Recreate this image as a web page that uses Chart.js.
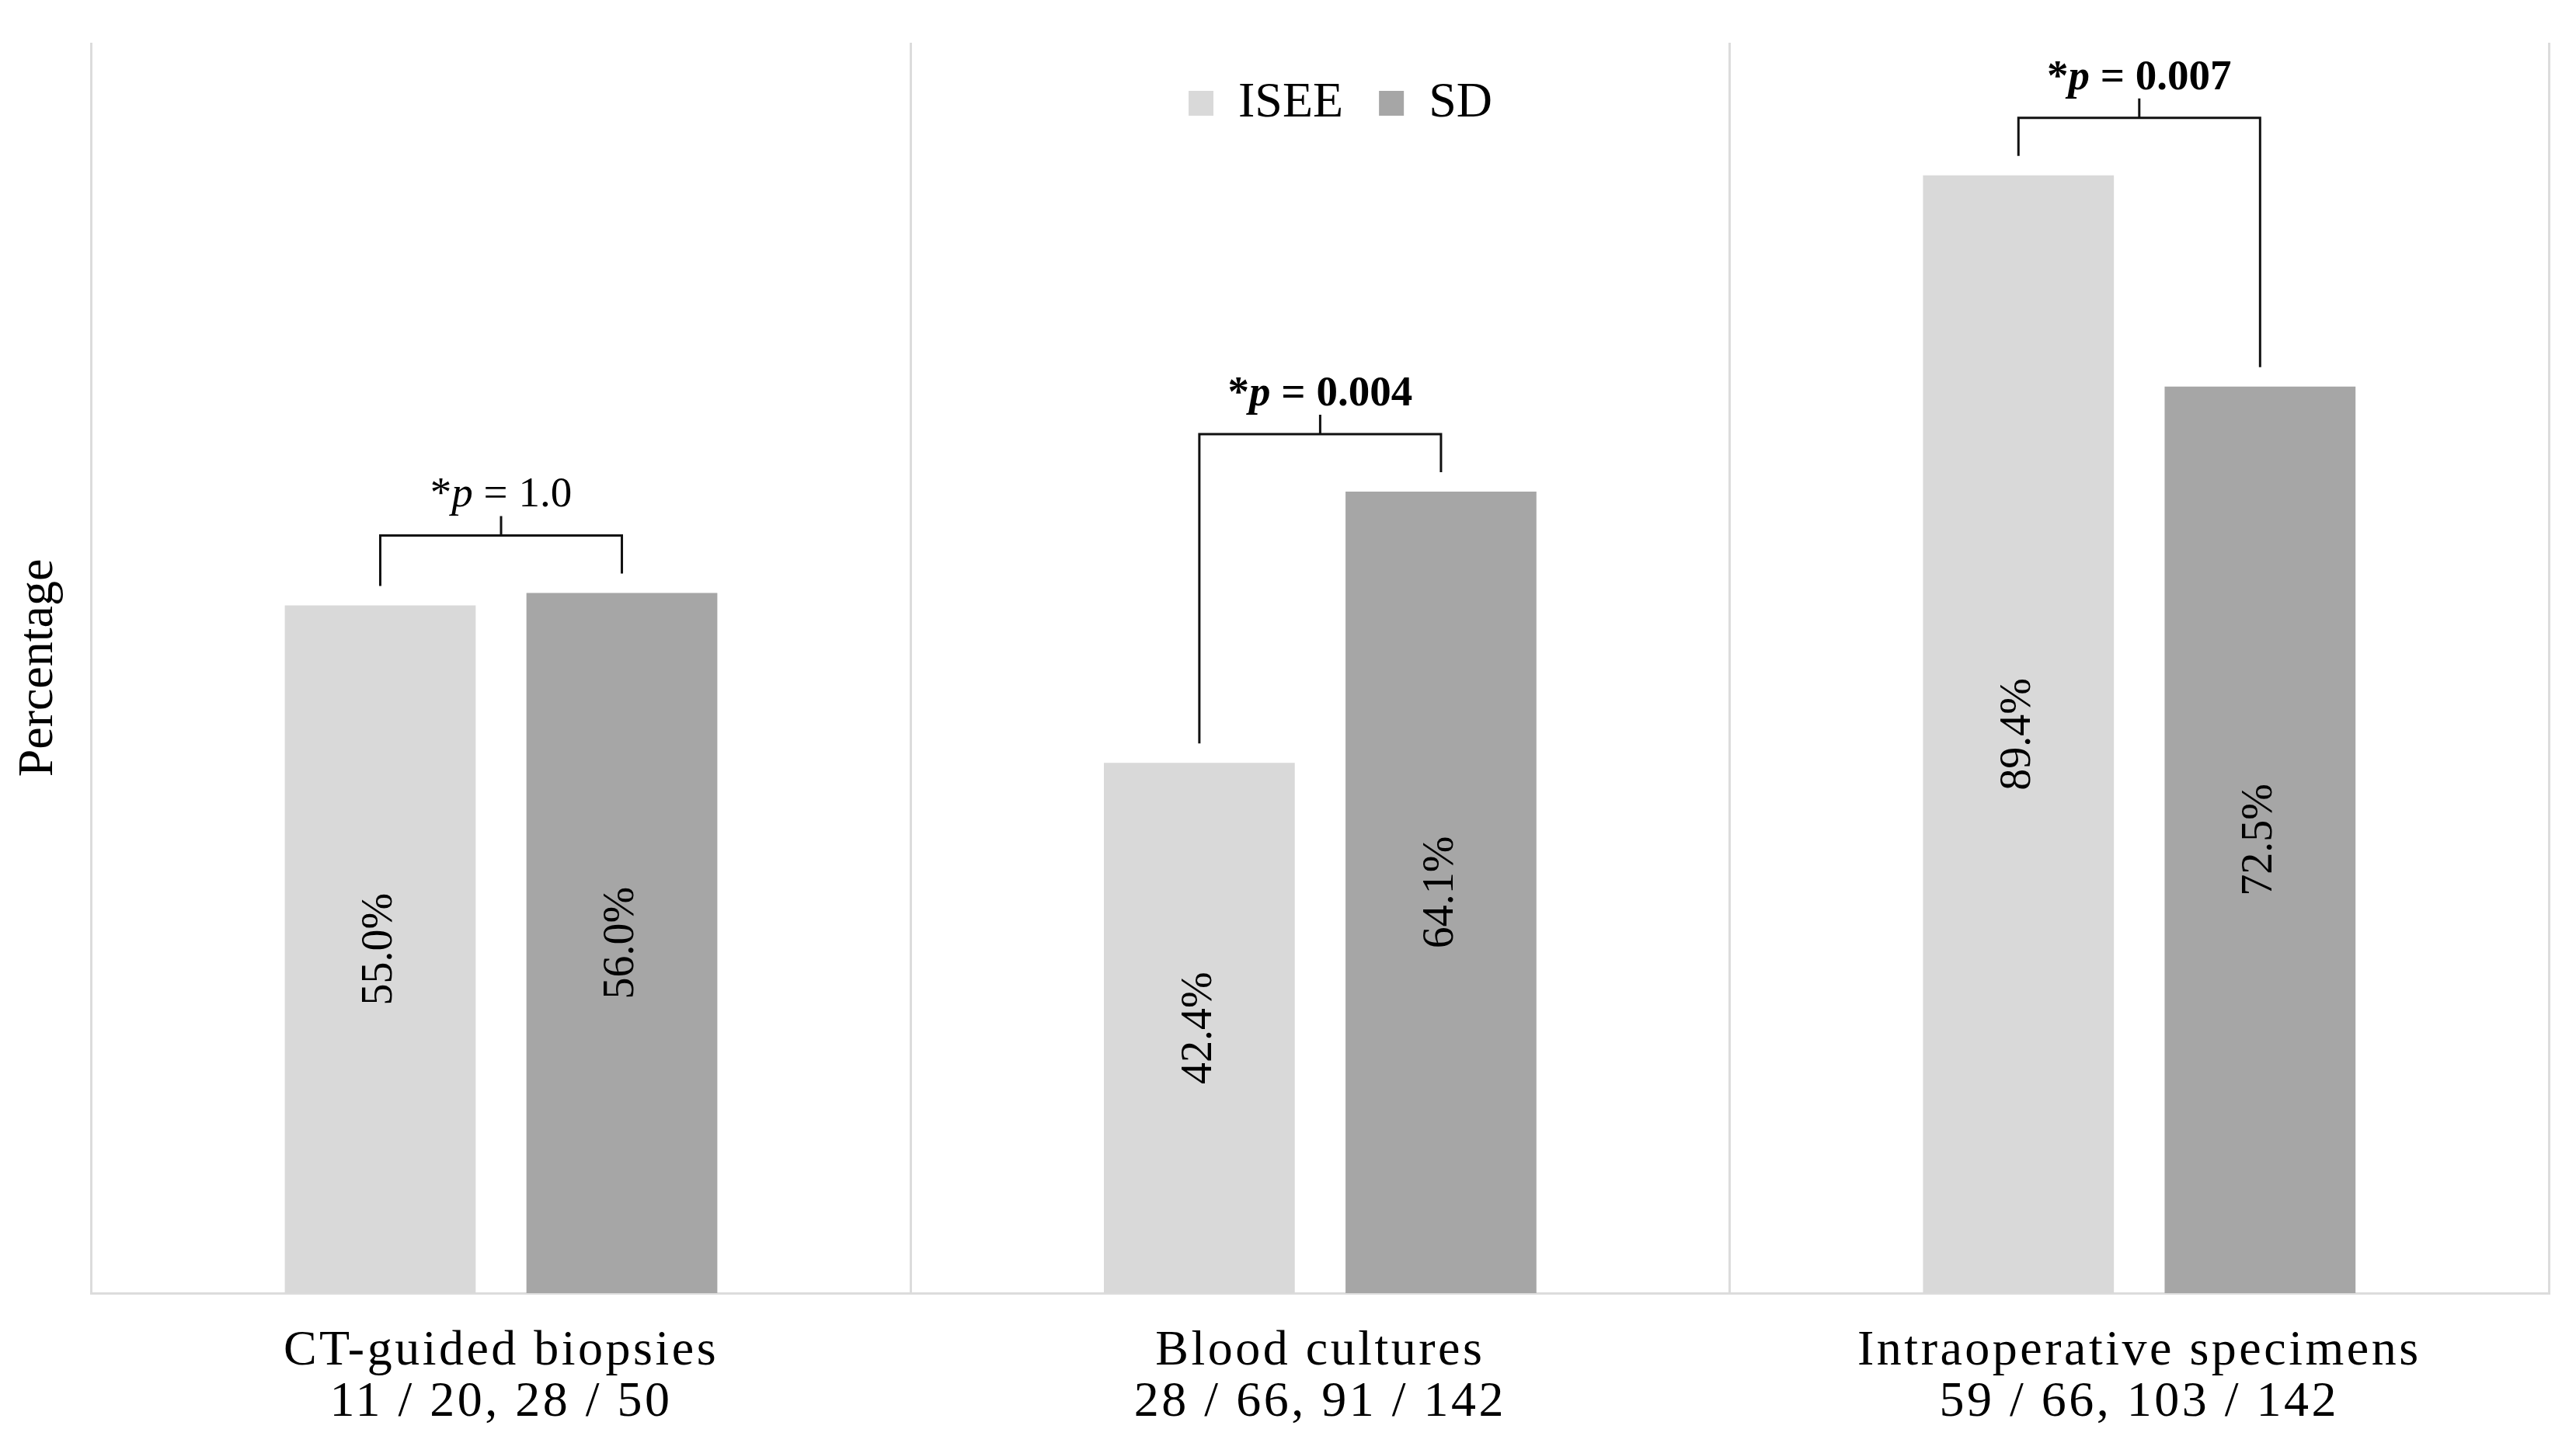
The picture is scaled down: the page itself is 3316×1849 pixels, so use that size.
<!DOCTYPE html>
<html>
<head>
<meta charset="utf-8">
<script src="https://cdn.jsdelivr.net/npm/chart.js@4.4.1/dist/chart.umd.min.js"></script>
<style>
  html, body { margin: 0; padding: 0; background: #fff; }
  #wrap { width: 3316px; height: 1849px; position: relative; }
</style>
</head>
<body>
<div id="wrap"><canvas id="chart"></canvas></div>
<script>
const SERIF = '"Liberation Serif", "Times New Roman", serif';

// data
const categories = [
  ["CT-guided biopsies", "11 / 20, 28 / 50"],
  ["Blood cultures", "28 / 66, 91 / 142"],
  ["Intraoperative specimens", "59 / 66, 103 / 142"],
];
const seriesNames = ["ISEE", "SD"];
const iseeValues = [55.0, 42.4, 89.4];
const sdValues = [56.0, 64.1, 72.5];
const pValues = ["1.0", "0.004", "0.007"];
const pSignificant = [false, true, true];

const colors = ["#d9d9d9", "#a6a6a6"];
const LEGEND_SHIFT = 85;

// bar value labels, rotated, centred in each bar
const barLabels = {
  id: "barLabels",
  afterDatasetsDraw(chart) {
    const ctx = chart.ctx;
    chart.data.datasets.forEach((ds, di) => {
      chart.getDatasetMeta(di).data.forEach((bar, i) => {
        const midY = (bar.y + bar.base) / 2;
        ctx.save();
        ctx.translate(bar.x, midY);
        ctx.rotate(-Math.PI / 2);
        ctx.font = `56px ${SERIF}`;
        ctx.fillStyle = "#000";
        ctx.textAlign = "center";
        ctx.textBaseline = "middle";
        ctx.fillText(ds.data[i].toFixed(1) + "%", 0, 0);
        ctx.restore();
      });
    });
  },
};

// significance brackets with p values
const brackets = {
  id: "brackets",
  afterDatasetsDraw(chart) {
    const ctx = chart.ctx;
    const a = chart.getDatasetMeta(0).data;
    const b = chart.getDatasetMeta(1).data;
    a.forEach((barA, i) => {
      const barB = b[i];
      const top = Math.min(barA.y, barB.y);
      const hy = top - 74;
      const x1 = barA.x, x2 = barB.x;
      const cx = (x1 + x2) / 2;
      ctx.save();
      ctx.strokeStyle = "#111";
      ctx.lineWidth = 3;
      ctx.beginPath();
      ctx.moveTo(x1, barA.y - 25);
      ctx.lineTo(x1, hy);
      ctx.lineTo(x2, hy);
      ctx.lineTo(x2, barB.y - 25);
      ctx.moveTo(cx, hy);
      ctx.lineTo(cx, hy - 25);
      ctx.stroke();

      // "*p = x" with mixed styles
      const w = pSignificant[i] ? "bold " : "";
      const parts = [
        { t: "*", f: `${w}55px ${SERIF}` },
        { t: "p", f: `italic ${w}55px ${SERIF}` },
        { t: " = " + pValues[i], f: `${w}55px ${SERIF}` },
      ];
      let total = 0;
      parts.forEach((p) => { ctx.font = p.f; p.w = ctx.measureText(p.t).width; total += p.w; });
      let x = cx - total / 2;
      ctx.fillStyle = "#000";
      ctx.textBaseline = "alphabetic";
      ctx.textAlign = "left";
      parts.forEach((p) => {
        ctx.font = p.f;
        ctx.fillText(p.t, x, hy - 37);
        x += p.w;
      });
      ctx.restore();
    });
  },
};

// legend floats over the plot (takes no layout height), x labels get letter spacing
const tweaks = {
  id: "tweaks",
  beforeLayout(chart) {
    const lg = chart.legend;
    if (lg && !lg._flat) {
      const fit = lg.fit.bind(lg);
      lg.fit = () => { fit(); lg._realH = lg.height; lg.height = 0; };
      lg._flat = true;
    }
  },
  afterLayout(chart) {
    const lg = chart.legend;
    lg.left += LEGEND_SHIFT;
    lg.right += LEGEND_SHIFT;
    lg.height = lg._realH;
    lg.bottom = lg.top + lg._realH;
    const sx = chart.scales.x;
    if (!sx._spaced) {
      const orig = sx.drawLabels.bind(sx);
      sx.drawLabels = (area) => {
        chart.ctx.letterSpacing = "3.5px";
        orig(area);
        chart.ctx.letterSpacing = "0px";
      };
      sx._spaced = true;
    }
  },
};

new Chart(document.getElementById("chart"), {
  type: "bar",
  data: {
    labels: categories,
    datasets: [
      { label: seriesNames[0], data: iseeValues, backgroundColor: colors[0] },
      { label: seriesNames[1], data: sdValues, backgroundColor: colors[1] },
    ],
  },
  options: {
    responsive: true,
    maintainAspectRatio: false,
    devicePixelRatio: 1,
    animation: false,
    categoryPercentage: 0.59,
    barPercentage: 0.79,
    layout: { padding: { top: 55, right: 35, bottom: 14, left: 0 } },
    plugins: {
      legend: {
        position: "top",
        align: "center",
        labels: {
          font: { family: SERIF, size: 64 },
          color: "#000",
          boxWidth: 32,
          boxHeight: 32,
          padding: 46,
        },
      },
      tooltip: { enabled: false },
    },
    scales: {
      x: {
        offset: true,
        grid: { color: "#dcdcdc", lineWidth: 3, drawTicks: false, offset: true },
        border: { color: "#dcdcdc", width: 3 },
        ticks: {
          font: { family: SERIF, size: 64, lineHeight: 1.03 },
          color: "#000",
          padding: 42,
          maxRotation: 0,
          autoSkip: false,
        },
        afterFit(scale) { scale.height = 170; },
      },
      y: {
        min: 0,
        max: 100,
        grid: { display: false },
        border: { display: false },
        ticks: { display: false },
        title: {
          display: true,
          text: "Percentage",
          font: { family: SERIF, size: 64 },
          color: "#000",
          padding: { top: 12, bottom: 21 },
        },
      },
    },
  },
  plugins: [barLabels, brackets, tweaks],
});
</script>
</body>
</html>
